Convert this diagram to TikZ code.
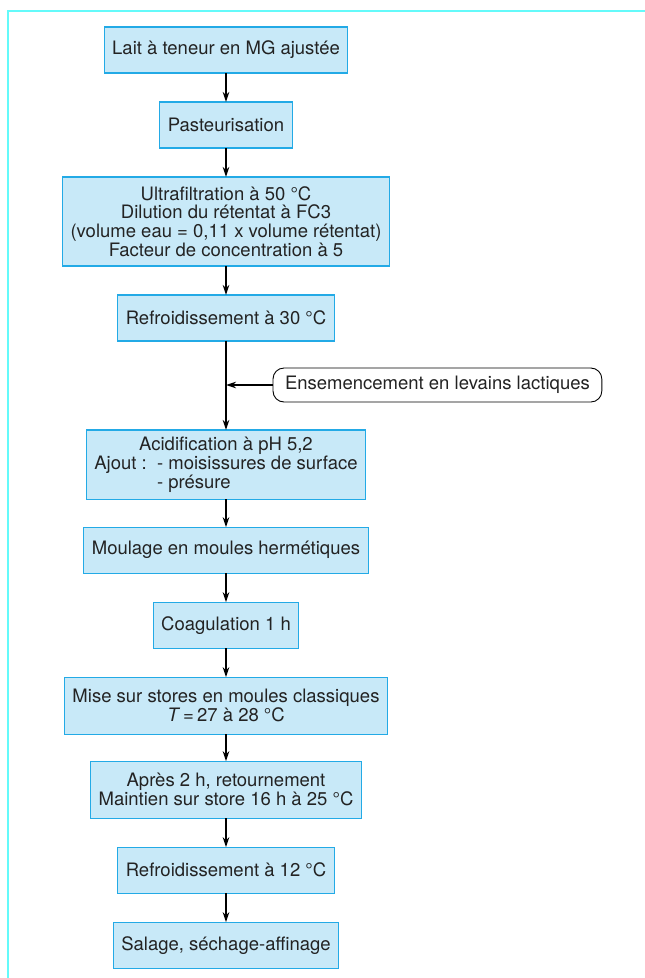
\documentclass[tikz,border=0pt]{standalone}
\usepackage{fontspec}
\setmainfont{TeX Gyre Heros}
\usepackage{tikz}
\usetikzlibrary{%
  positioning
 ,arrows.meta
}
\definecolor{boxfill}{RGB}{200,233,248}
\definecolor{boxline}{RGB}{35,170,230}
\definecolor{frameline}{RGB}{100,250,250}
\definecolor{txt}{RGB}{35,35,35}
\tikzstyle{flow}=[node distance=29pt,font=\fontsize{18.5}{18.8}\selectfont,text=txt]
\tikzstyle{st}=[rectangle,draw=boxline,fill=boxfill,line width=1.2pt,outer sep=0pt,align=center,inner xsep=8pt,inner ysep=7pt,minimum height=46pt]
\tikzstyle{sttwo}=[st,minimum height=57pt]
\tikzstyle{src}=[rectangle,rounded corners=11pt,draw=black,fill=white,line width=0.9pt,outer sep=0pt,inner xsep=12pt,minimum height=34pt]
\tikzstyle{fl}=[-{Stealth[length=10pt,width=6.5pt]},line width=1.3pt]

\begin{document}
\begin{tikzpicture}[flow]
  \useasboundingbox (0,0) rectangle (645pt,-978pt);
  \draw[frameline,line width=2pt] (8pt,-985pt) -- (8pt,-11pt) -- (650pt,-11pt);
  \node[st]    (lait)               at (226pt,-50pt) {Lait à teneur en MG ajustée};
  \node[st]    (past)  [below=of lait]  {Pasteurisation};
  \node[st,minimum height=89pt] (ultra) [below=of past]  {Ultrafiltration à 50 °C\\Dilution du rétentat à FC3\\(volume eau = 0,11 x volume rétentat)\\Facteur de concentration à 5};
  \node[st]    (refa)  [below=of ultra] {Refroidissement à 30 °C};
  \node[st,minimum height=69pt] (acid)  [below=89pt of refa] {Acidification à pH 5,2\\Ajout :\ \ - moisissures de surface\\\hphantom{Ajout :\ \ }\rlap{- présure}\hphantom{- moisissures de surface}};
  \node[st]    (moul)  [below=28pt of acid]  {Moulage en moules hermétiques};
  \node[st]    (coag)  [below=of moul]  {Coagulation 1 h};
  \node[sttwo] (mise)  [below=of coag]  {Mise sur stores en moules classiques\\{\itshape T\/}\,=\,27 à 28 °C};
  \node[sttwo] (apres) [below=27pt of mise]  {Après 2 h, retournement\\Maintien sur store 16 h à 25 °C};
  \node[st]    (refb)  [below=of apres] {Refroidissement à 12 °C};
  \node[st]    (sal)   [below=of refb]  {Salage, séchage-affinage};
% ensemencement
  \coordinate[below=44pt of refa.south] (j);
  \node[src]   (ens)   [right=47pt of j] {Ensemencement en levains lactiques};
%
  \path[fl]
  (lait)  edge (past)
  (past)  edge (ultra)
  (ultra) edge (refa)
  (refa)  edge (acid)
  (ens)   edge (j)
  (acid)  edge (moul)
  (moul)  edge (coag)
  (coag)  edge (mise)
  (mise)  edge (apres)
  (apres) edge (refb)
  (refb)  edge (sal);

\end{tikzpicture}
\end{document}
